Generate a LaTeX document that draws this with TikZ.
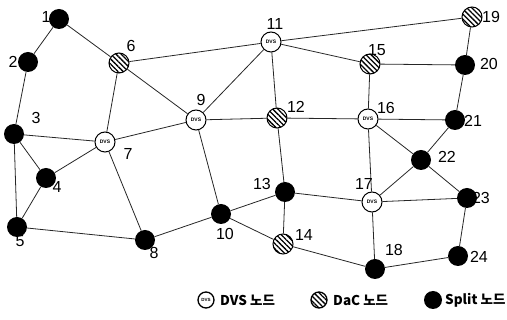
\documentclass[tikz,border=0pt]{standalone}
\usepackage{fontspec}
\setmainfont{Liberation Sans}
\newfontfamily\kfont{Noto Sans CJK KR}
\usetikzlibrary{patterns.meta}
\tikzset{
  edge/.style={draw=black!85, line width=0.8pt},
  base/.style={circle, minimum size=20pt, inner sep=0pt},
  split/.style={base, fill=black},
  dvs/.style={base, draw=black, line width=1pt, fill=white, font=\fontsize{5}{5}\selectfont\bfseries},
  dac/.style={base, draw=black, line width=1pt, fill=white, postaction={pattern={Lines[angle=-45,distance=3.6pt,line width=1.3pt]}}},
  lab/.style={font=\fontsize{16}{16}\selectfont, inner sep=0pt},
  leg/.style={font=\kfont\bfseries\fontsize{13.5}{14}\selectfont, inner sep=0pt, anchor=west},
}
\begin{document}
\begin{tikzpicture}[x=1pt,y=-1pt]
\useasboundingbox (0,0) rectangle (507,320);
\node[split] (n1) at (59,19) {};
\node[split] (n2) at (28,62) {};
\node[split] (n3) at (14,134) {};
\node[split] (n4) at (46,178) {};
\node[split] (n5) at (17,227) {};
\node[dac] (n6) at (119,63) {};
\node[dvs] (n7) at (105,142) {DVS};
\node[split] (n8) at (145,240) {};
\node[dvs] (n9) at (196,120) {DVS};
\node[split] (n10) at (221,214) {};
\node[dvs] (n11) at (271,42) {DVS};
\node[dac] (n12) at (277,118) {};
\node[split] (n13) at (285,192) {};
\node[dac] (n14) at (283,244) {};
\node[dac] (n15) at (370,64) {};
\node[dvs] (n16) at (368,119) {DVS};
\node[dvs] (n17) at (372,202) {DVS};
\node[split] (n18) at (375,269) {};
\node[dac] (n19) at (472,17) {};
\node[split] (n20) at (465,65) {};
\node[split] (n21) at (455,120) {};
\node[split] (n22) at (421,160) {};
\node[split] (n23) at (467,198) {};
\node[split] (n24) at (458,256) {};
\foreach \a/\b in {1/2,1/6,2/3,3/7,3/4,3/5,4/7,4/5,5/8,6/7,6/9,6/11,7/9,7/8,8/10,9/11,9/12,9/10,10/13,10/14,11/19,11/15,11/12,12/16,12/13,13/14,13/17,14/18,15/20,15/16,16/21,16/17,16/22,17/22,17/23,17/18,18/24,19/20,20/21,21/22,22/23,23/24}
  \draw[edge] (n\a) -- (n\b);
% labels
\node[lab] (l1) at (46,17) {1};
\node[lab] (l2) at (13,62) {2};
\node[lab] (l3) at (36,118) {3};
\node[lab] (l4) at (57,187) {4};
\node[lab] (l5) at (20,241) {5};
\node[lab] (l6) at (131,46) {6};
\node[lab] (l7) at (128,154) {7};
\node[lab] (l8) at (154,253) {8};
\node[lab] (l9) at (201,100) {9};
\node[lab] (l10) at (225,234) {10};
\node[lab] (l11) at (275,24) {11};
\node[lab] (l12) at (296,107) {12};
\node[lab] (l13) at (262,184) {13};
\node[lab] (l14) at (304,235) {14};
\node[lab] (l15) at (377,50) {15};
\node[lab] (l16) at (386,108) {16};
\node[lab] (l17) at (364,184) {17};
\node[lab] (l18) at (394,250) {18};
\node[lab] (l19) at (491,17) {19};
\node[lab] (l20) at (489,64) {20};
\node[lab] (l21) at (473,121) {21};
\node[lab] (l22) at (447,157) {22};
\node[lab] (l23) at (481,198) {23};
\node[lab] (l24) at (479,257) {24};
% legend
\node[dvs, minimum size=16pt, line width=1.3pt, font=\fontsize{4.5}{4.5}\selectfont\bfseries] (k1) at (206,300) {DVS};
\node[leg] (t1) at (220,300) {DVS 노드};
\node[dac, minimum size=16pt, line width=1.3pt] (k2) at (319,300) {};
\node[leg] (t2) at (333,300) {DaC 노드};
\node[split, minimum size=18pt] (k3) at (433,300) {};
\node[leg] (t3) at (445,300) {Split 노드};
\end{tikzpicture}
\end{document}
